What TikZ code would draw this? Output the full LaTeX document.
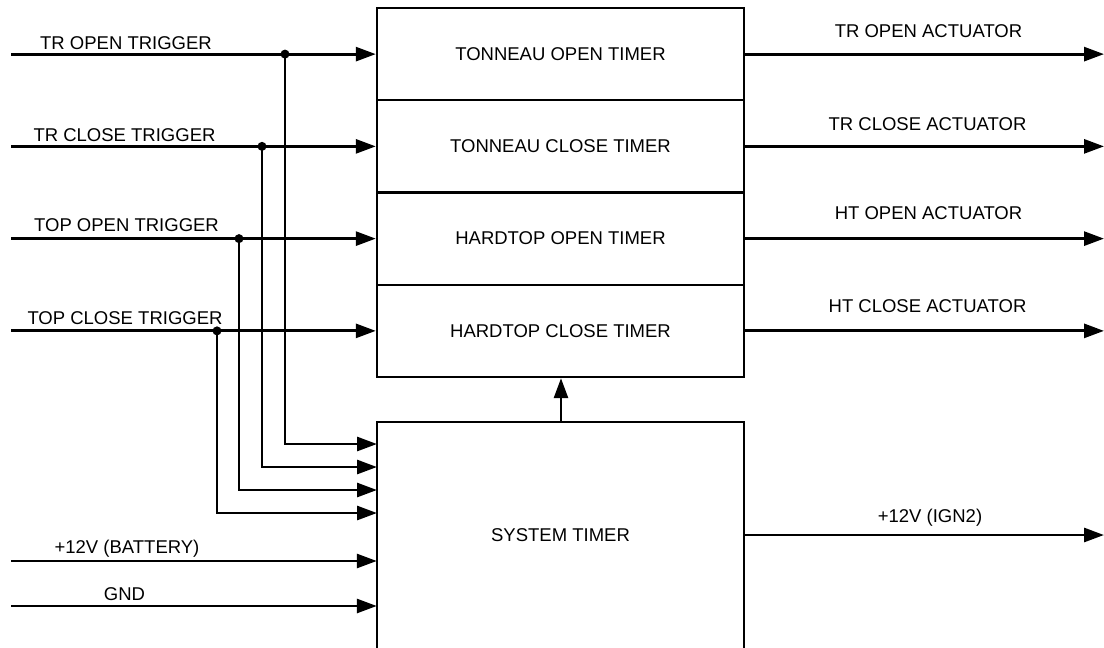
\documentclass[tikz,border=0pt]{standalone}
\usepackage{fontspec}
\setmainfont{Liberation Sans}
\usetikzlibrary{arrows.meta}
\begin{document}
\begin{tikzpicture}[x=1pt,y=-1pt,
  wire/.style={line width=2.8pt,-{Triangle[length=20pt,width=14pt]}},
  bline/.style={line width=2.4pt},
  blk/.style={draw,line width=2.4pt,minimum width=367pt,minimum height=92.25pt,inner sep=0pt,font=\fontsize{18.5}{20}\selectfont},
  lbl/.style={font=\fontsize{18.5}{20}\selectfont,inner sep=0pt,anchor=base},
  jdot/.style={circle,fill,inner sep=0pt,minimum size=9pt}]
\clip (0,0) rectangle (1104,648);
\fill[white] (0,0) rectangle (1104,648);
% timer blocks
\node[blk] (t1) at (560.5,54.125) {TONNEAU OPEN TIMER};
\node[blk] (t2) at (560.5,146.375) {TONNEAU CLOSE TIMER};
\node[blk] (t3) at (560.5,238.625) {HARDTOP OPEN TIMER};
\node[blk] (t4) at (560.5,330.875) {HARDTOP CLOSE TIMER};
% system timer (bottom runs off the picture)
\node[minimum width=367pt,minimum height=226pt,inner sep=0pt,font=\fontsize{18.5}{20}\selectfont] (st) at (560.5,535) {SYSTEM TIMER};
\draw[bline] (st.south west) -- (st.north west) -- (st.north east) -- (st.south east);
% input start points
\coordinate (i1) at (11,54.125);
\coordinate (i2) at (11,146.375);
\coordinate (i3) at (11,238.625);
\coordinate (i4) at (11,330.875);
\coordinate (i5) at (11,561);
\coordinate (i6) at (11,606);
% junctions
\node[jdot] (j1) at (285,54.125) {};
\node[jdot] (j2) at (262,146.375) {};
\node[jdot] (j3) at (239,238.625) {};
\node[jdot] (j4) at (217,330.875) {};
% system timer input points
\coordinate (s1) at (377,444);
\coordinate (s2) at (377,467);
\coordinate (s3) at (377,490);
\coordinate (s4) at (377,513);
% trigger wires
\draw[wire] (i1) -- (t1.west);
\draw[wire] (i2) -- (t2.west);
\draw[wire] (i3) -- (t3.west);
\draw[wire] (i4) -- (t4.west);
\draw[wire] (j1.center) |- (s1);
\draw[wire] (j2.center) |- (s2);
\draw[wire] (j3.center) |- (s3);
\draw[wire] (j4.center) |- (s4);
\draw[wire] (i5) -- (i5 -| st.west);
\draw[wire] (i6) -- (i6 -| st.west);
% outputs
\coordinate (o1) at (1104,54.125);
\coordinate (o2) at (1104,146.375);
\coordinate (o3) at (1104,238.625);
\coordinate (o4) at (1104,330.875);
\coordinate (o5) at (1104,535);
\draw[wire] (t1.east) -- (o1);
\draw[wire] (t2.east) -- (o2);
\draw[wire] (t3.east) -- (o3);
\draw[wire] (t4.east) -- (o4);
\draw[wire] (st.east) -- (o5);
% system timer to timers
\coordinate (ux) at (561,0);
\draw[wire] (st.north -| ux) -- (t4.south -| ux);
% labels
\node[lbl] at (126,49.6) {TR OPEN TRIGGER};
\node[lbl] at (124.5,141.6) {TR CLOSE TRIGGER};
\node[lbl] at (126.5,231.6) {TOP OPEN TRIGGER};
\node[lbl] at (125,324.6) {TOP CLOSE TRIGGER};
\node[lbl] at (127,553.6) {+12V (BATTERY)};
\node[lbl] at (124.5,600.6) {GND};
\node[lbl] at (928.5,37.6) {TR OPEN ACTUATOR};
\node[lbl] at (927.5,130.6) {TR CLOSE ACTUATOR};
\node[lbl] at (928.5,219.6) {HT OPEN ACTUATOR};
\node[lbl] at (927.5,312.6) {HT CLOSE ACTUATOR};
\node[lbl] at (930,522.6) {+12V (IGN2)};
\end{tikzpicture}
\end{document}
